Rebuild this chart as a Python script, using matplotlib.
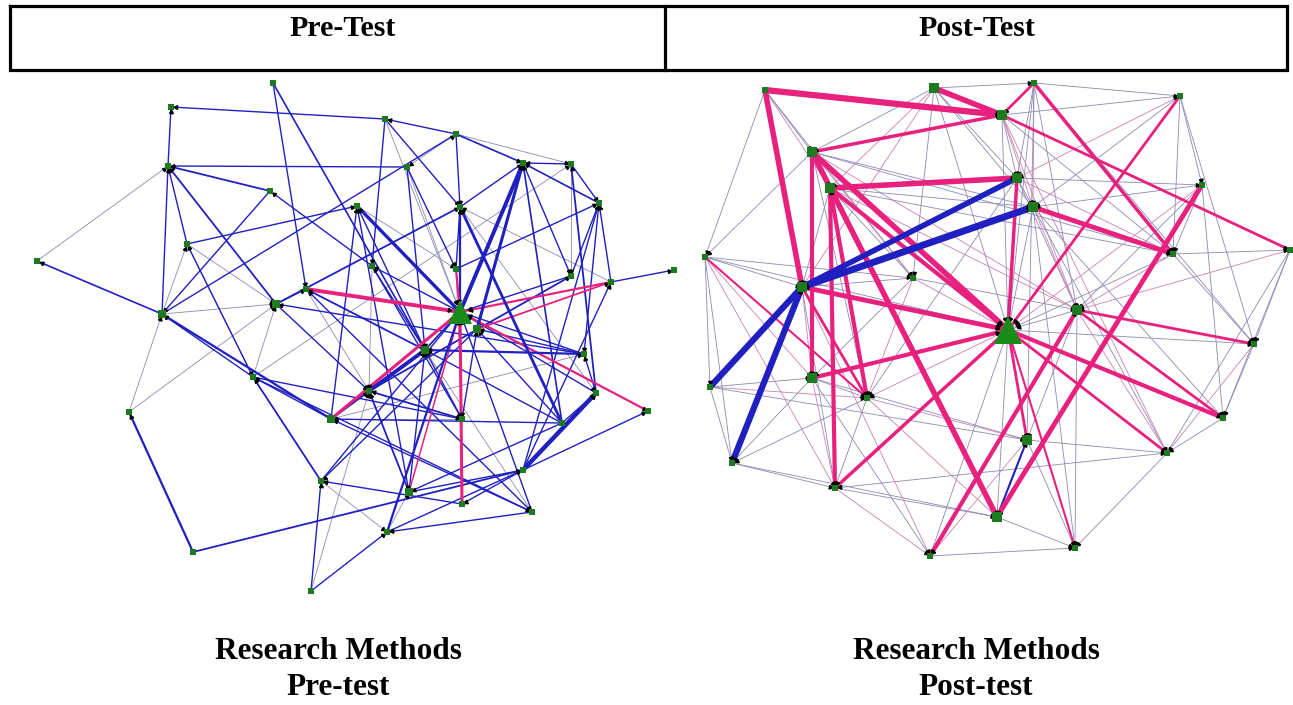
import numpy as np
import matplotlib
matplotlib.use("Agg")
import matplotlib.pyplot as plt

# node coordinates (pixel space of the 1293x705 image)
pre_x = [273, 171, 385, 456, 168, 407, 523, 571, 270, 357, 460, 599, 187, 37,
         372, 456, 571, 611, 674, 306, 276, 162, 460, 477, 425, 584, 253, 369,
         596, 648, 129, 331, 462, 562, 523, 321, 409, 462, 532, 193, 387, 311]
pre_y = [83, 107, 119, 134, 166, 167, 163, 164, 191, 206, 207, 203, 244, 261,
         266, 269, 276, 282, 270, 289, 304, 314, 312, 329, 350, 354, 377, 391,
         393, 411, 412, 419, 419, 423, 470, 481, 492, 504, 512, 552, 532, 591]
pre_hub = 22
pre_big = [20, 21, 31, 36, 24, 23]

# (source, target, weight, kind)  kind: b=blue, t=thin, p=pink
pre_edges = [
    (0, 19, 1, 'b'), (0, 24, 1.2, 'b'), (2, 1, 1, 'b'), (4, 1, 1, 'b'), (3, 2, 1, 'b'),
    (2, 14, 1, 'b'), (2, 10, 1, 'b'), (3, 6, 1.2, 'b'), (3, 7, 0.6, 't'), (3, 10, 1, 'b'),
    (21, 3, 1, 'b'), (5, 4, 1, 'b'), (8, 4, 1.3, 'b'), (13, 4, 0.6, 't'), (20, 4, 1.3, 'b'),
    (21, 4, 1, 'b'), (12, 4, 1, 'b'), (5, 15, 1, 'b'), (5, 24, 1, 'b'), (5, 22, 0.6, 't'),
    (7, 6, 1, 'b'), (22, 6, 2.8, 'b'), (23, 6, 2.2, 'b'), (11, 6, 1.2, 'b'), (33, 6, 1.2, 'b'),
    (10, 6, 1, 'b'), (7, 11, 1, 'b'), (28, 7, 1.3, 'b'), (26, 7, 0.6, 't'), (8, 21, 1, 'b'),
    (14, 8, 1, 'b'), (22, 9, 2.4, 'b'), (24, 9, 1, 'b'), (12, 9, 1, 'b'), (31, 9, 1, 'b'),
    (22, 10, 1.6, 'b'), (33, 10, 2, 'b'), (15, 10, 1, 'b'), (20, 10, 1.3, 'b'), (17, 10, 0.6, 't'),
    (16, 11, 1, 'b'), (17, 11, 1, 'b'), (15, 11, 1, 'b'), (34, 11, 1, 'b'), (26, 12, 1, 'b'),
    (21, 12, 0.6, 't'), (21, 13, 1.2, 'b'), (22, 14, 1, 'b'), (24, 14, 1, 'b'), (15, 22, 1.6, 'p'),
    (27, 16, 1.3, 'b'), (16, 22, 1, 'b'), (17, 18, 1, 'b'), (17, 22, 1.6, 'p'), (23, 17, 1.3, 'p'),
    (34, 17, 1, 'b'), (19, 22, 2.8, 'p'), (20, 19, 1, 'b'), (24, 19, 1.3, 'b'), (38, 19, 1, 'b'),
    (21, 20, 0.6, 't'), (25, 20, 1, 'b'), (26, 20, 0.6, 't'), (26, 21, 1, 'b'), (31, 21, 1.6, 'b'),
    (22, 29, 1.6, 'p'), (31, 22, 2.2, 'p'), (36, 22, 1.1, 'p'), (37, 22, 2.2, 'p'), (24, 22, 1.3, 'b'),
    (25, 22, 1, 'b'), (28, 22, 1, 'b'), (40, 22, 1.6, 'b'), (35, 22, 1, 'b'), (38, 22, 1, 'b'),
    (25, 23, 1, 'b'), (33, 23, 1, 'b'), (32, 23, 1, 'b'), (25, 24, 1.6, 'b'), (27, 24, 2.8, 'b'),
    (36, 24, 1, 'b'), (33, 24, 1, 'b'), (32, 24, 1, 'b'), (28, 25, 1, 'b'), (31, 25, 0.6, 't'),
    (31, 26, 1, 'b'), (35, 26, 1.3, 'b'), (31, 27, 1.6, 'b'), (32, 27, 1.3, 'b'), (36, 27, 1.3, 'b'),
    (41, 27, 0.6, 't'), (34, 28, 3.2, 'b'), (33, 28, 1, 'b'), (34, 29, 1, 'b'), (39, 30, 1.6, 'b'),
    (30, 21, 0.6, 't'), (30, 20, 0.6, 't'), (33, 31, 1, 'b'), (38, 31, 1, 'b'), (32, 31, 0.6, 't'),
    (26, 32, 1, 'b'), (36, 34, 1, 'b'), (40, 34, 1, 'b'), (41, 35, 1, 'b'), (37, 35, 1, 'b'),
    (23, 35, 1, 'b'), (33, 36, 1, 'b'), (40, 36, 0.6, 't'), (34, 37, 1, 'b'), (26, 38, 1, 'b'),
    (39, 34, 1.3, 'b'), (41, 40, 1, 'b'), (38, 40, 1, 'b'), (12, 26, 0.6, 't'), (20, 27, 1, 'b'),
    (14, 32, 1, 'b'), (9, 36, 1, 'b'), (11, 25, 1, 'b'), (6, 16, 1, 'b'), (3, 5, 0.6, 't'),
    (2, 22, 0.6, 't'), (10, 28, 0.6, 't'), (9, 15, 0.6, 't'), (14, 27, 0.6, 't'), (19, 27, 0.6, 't'),
    (12, 20, 0.6, 't'), (7, 16, 0.6, 't'), (24, 38, 0.6, 't'), (15, 32, 0.6, 't'), (35, 40, 0.6, 't'),
]

post_x = [765, 934, 1002, 1034, 1180, 812, 830, 1017, 1202, 1033, 705, 913, 802, 1173,
          1290, 1077, 1008, 1254, 710, 812, 867, 1223, 1027, 1167, 732, 835, 997, 930, 1075]
post_y = [90, 88, 115, 83, 96, 152, 188, 178, 185, 207, 257, 278, 287, 254,
          250, 310, 330, 344, 387, 378, 398, 418, 440, 453, 463, 488, 517, 556, 548]
post_hub = 16
post_big = [1, 2, 5, 6, 7, 9, 12, 15, 19, 22, 26]

post_edges = [
    (0, 2, 4.5, 'p'), (0, 12, 4, 'p'), (1, 2, 4, 'p'), (5, 2, 2.5, 'p'), (6, 7, 4, 'p'),
    (5, 16, 4, 'p'), (6, 16, 3, 'p'), (6, 25, 3, 'p'), (5, 19, 3, 'p'), (5, 26, 4, 'p'),
    (12, 16, 3.5, 'p'), (19, 16, 3, 'p'), (20, 6, 3, 'p'), (25, 16, 2.5, 'p'), (3, 13, 2.5, 'p'),
    (2, 14, 2, 'p'), (9, 13, 3.5, 'p'), (7, 16, 2.5, 'p'), (4, 16, 2, 'p'), (8, 26, 3.5, 'p'),
    (15, 21, 2, 'p'), (16, 21, 3, 'p'), (16, 23, 2, 'p'), (15, 17, 2, 'p'), (16, 28, 1.5, 'p'),
    (16, 22, 2, 'p'), (27, 15, 3, 'p'), (10, 20, 1.5, 'p'), (12, 20, 2, 'p'), (3, 2, 2, 'p'),
    (12, 9, 5, 'b'), (12, 7, 4, 'b'), (18, 12, 4.5, 'b'), (24, 12, 4.5, 'b'), (26, 22, 1.5, 'b'),
    (0, 5, 0.6, 't'), (0, 10, 0.6, 't'), (0, 6, 0.6, 'q'), (0, 11, 0.6, 't'), (1, 3, 0.6, 't'),
    (1, 5, 0.6, 't'), (1, 6, 0.6, 'q'), (1, 7, 0.6, 't'), (1, 11, 0.6, 't'), (1, 12, 0.6, 'q'),
    (1, 9, 0.6, 't'), (1, 16, 0.6, 't'), (2, 7, 0.6, 't'), (2, 9, 0.6, 'q'), (2, 4, 0.6, 't'),
    (2, 16, 0.6, 't'), (2, 15, 0.6, 'q'), (2, 13, 0.6, 't'), (3, 4, 0.6, 't'), (3, 7, 0.6, 't'),
    (3, 9, 0.6, 'q'), (3, 16, 0.6, 't'), (3, 15, 0.6, 't'), (3, 22, 0.6, 't'), (4, 7, 0.6, 'q'),
    (4, 9, 0.6, 't'), (4, 13, 0.6, 't'), (4, 8, 0.6, 't'), (5, 10, 0.6, 't'), (5, 11, 0.6, 'q'),
    (5, 9, 0.6, 't'), (5, 13, 0.6, 't'), (5, 15, 0.6, 'q'), (6, 9, 0.6, 't'), (6, 11, 0.6, 't'),
    (6, 15, 0.6, 'q'), (6, 13, 0.6, 't'), (7, 8, 0.6, 't'), (7, 9, 0.6, 't'), (7, 13, 0.6, 'q'),
    (7, 15, 0.6, 't'), (7, 20, 0.6, 't'), (8, 15, 0.6, 't'), (8, 16, 0.6, 'q'), (8, 13, 0.6, 't'),
    (8, 21, 0.6, 't'), (8, 9, 0.6, 't'), (9, 15, 0.6, 'q'), (9, 16, 0.6, 't'), (9, 21, 0.6, 't'),
    (9, 23, 0.6, 't'), (10, 12, 0.6, 't'), (10, 18, 0.6, 't'), (10, 19, 0.6, 'q'), (10, 11, 0.6, 't'),
    (10, 16, 0.6, 't'), (11, 12, 0.6, 't'), (11, 16, 0.6, 'q'), (11, 19, 0.6, 't'), (11, 15, 0.6, 't'),
    (12, 25, 0.6, 't'), (12, 19, 0.6, 'q'), (13, 14, 0.6, 't'), (13, 16, 0.6, 't'), (13, 15, 0.6, 'q'),
    (13, 17, 0.6, 't'), (14, 17, 0.6, 't'), (14, 23, 0.6, 't'), (14, 15, 0.6, 'q'), (14, 21, 0.6, 't'),
    (15, 16, 0.6, 't'), (15, 22, 0.6, 't'), (15, 23, 0.6, 'q'), (15, 28, 0.6, 't'), (16, 17, 0.6, 't'),
    (16, 20, 0.6, 'q'), (16, 26, 0.6, 't'), (16, 27, 0.6, 't'), (17, 21, 0.6, 't'), (17, 23, 0.6, 'q'),
    (18, 19, 0.6, 't'), (18, 24, 0.6, 't'), (18, 20, 0.6, 'q'), (18, 22, 0.6, 't'), (19, 20, 0.6, 't'),
    (19, 24, 0.6, 't'), (19, 25, 0.6, 'q'), (19, 22, 0.6, 't'), (19, 27, 0.6, 't'), (20, 22, 0.6, 'q'),
    (20, 24, 0.6, 't'), (20, 25, 0.6, 't'), (20, 26, 0.6, 'q'), (21, 23, 0.6, 't'), (22, 23, 0.6, 't'),
    (22, 27, 0.6, 'q'), (22, 28, 0.6, 't'), (23, 28, 0.6, 't'), (23, 25, 0.6, 't'), (24, 25, 0.6, 't'),
    (24, 26, 0.6, 't'), (25, 26, 0.6, 't'), (25, 27, 0.6, 'q'), (26, 28, 0.6, 't'), (27, 28, 0.6, 't'),
    (10, 24, 0.6, 't'), (11, 20, 0.6, 'q'), (3, 17, 0.6, 't'), (4, 17, 0.6, 't'), (2, 23, 0.6, 'q'),
    (9, 28, 0.6, 't'), (5, 20, 0.6, 't'), (6, 12, 0.6, 't'), (12, 27, 0.6, 'q'), (10, 25, 0.6, 'q'),
]

headers = ['Pre-Test', 'Post-Test']
captions = ['Research Methods\nPre-test', 'Research Methods\nPost-test']

colors = {'b': '#2020c0', 't': '#8a8ab4', 'q': '#c882b0', 'p': '#e8207e'}
node_green = '#1e7a1e'


def draw_network(ax, xs, ys, edges, hub, big, small_size, big_size, hub_size):
    xs = np.array(xs, float)
    ys = np.array(ys, float)
    order = sorted(edges, key=lambda e: e[2])
    for s, t, w, k in order:
        ax.plot([xs[s], xs[t]], [ys[s], ys[t]], color=colors[k], lw=w,
                solid_capstyle='butt', zorder=2 if k in 'tq' else 3)
    # arrowheads at the target end
    for s, t, w, k in edges:
        dx, dy = xs[t] - xs[s], ys[t] - ys[s]
        d = np.hypot(dx, dy)
        off = 11 if t == hub else 5
        px, py = xs[t] - dx / d * off, ys[t] - dy / d * off
        ang = np.degrees(np.arctan2(-dy, dx)) - 90
        ax.plot(px, py, marker=(3, 0, ang), color='black', ms=3.2, zorder=4)
    sizes = np.full(len(xs), small_size)
    sizes[big] = big_size
    for i in range(len(xs)):
        if i == hub:
            continue
        ax.plot(xs[i], ys[i], 's', color=node_green, ms=sizes[i], mew=0, zorder=5)
    ax.plot(xs[hub], ys[hub], '^', color='#1a8a1a', ms=hub_size, mew=0, zorder=6)


fig = plt.figure(figsize=(12.93, 7.05), dpi=100)
ax = fig.add_axes([0, 0, 1, 1])
ax.set_xlim(0, 1293)
ax.set_ylim(705, 0)
ax.axis('off')

# header table
box_l, box_r, box_t, box_b, box_mid = 10, 1287, 6, 70, 665
ax.plot([box_l, box_r, box_r, box_l, box_l], [box_t, box_t, box_b, box_b, box_t],
        color='black', lw=2.3, solid_joinstyle='miter')
ax.plot([box_mid, box_mid], [box_t, box_b], color='black', lw=2.3)

serif = ['Liberation Serif', 'DejaVu Serif']
ax.text(343, 36, headers[0], ha='center', va='baseline', fontsize=21.5,
        fontweight='bold', family=serif)
ax.text(977, 36, headers[1], ha='center', va='baseline', fontsize=21.5,
        fontweight='bold', family=serif)

draw_network(ax, pre_x, pre_y, pre_edges, pre_hub, pre_big, 4, 6, 17)
draw_network(ax, post_x, post_y, post_edges, post_hub, post_big, 5, 7, 20)

for cx, cap in zip([338, 976], captions):
    top, bottom = cap.split('\n')
    ax.text(cx, 659, top, ha='center', va='baseline', fontsize=22.5,
            fontweight='bold', family=serif)
    ax.text(cx, 695, bottom, ha='center', va='baseline', fontsize=22.5,
            fontweight='bold', family=serif)

fig.savefig('out.png', dpi=100)
